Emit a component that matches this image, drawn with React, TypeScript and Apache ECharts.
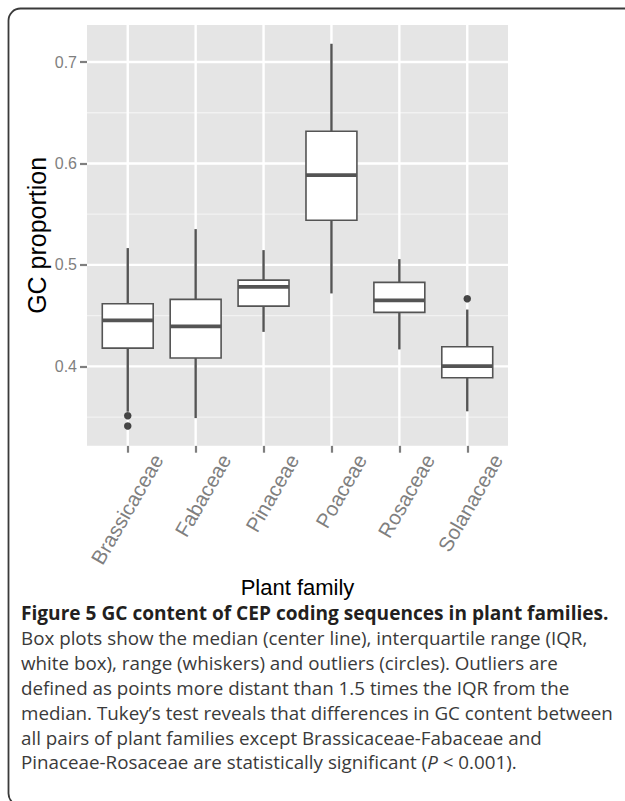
import React, { useEffect, useRef } from "react";
import * as echarts from "echarts";

const families = ["Brassicaceae", "Fabaceae", "Pinaceae", "Poaceae", "Rosaceae", "Solanaceae"];
const whiskerLow = [0.3553, 0.349, 0.434, 0.4719, 0.4167, 0.3557];
const quartile1 = [0.418, 0.4082, 0.4594, 0.5441, 0.4532, 0.3888];
const medians = [0.4453, 0.4394, 0.4784, 0.5885, 0.465, 0.4003];
const quartile3 = [0.4617, 0.466, 0.485, 0.6318, 0.4828, 0.4193];
const whiskerHigh = [0.5166, 0.5353, 0.5146, 0.718, 0.5057, 0.456];
const outlierFamily = ["Brassicaceae", "Brassicaceae", "Solanaceae"];
const outlierValue = [0.3513, 0.3412, 0.4666];
const yTicks = [0.4, 0.5, 0.6, 0.7];
const yMinor = [0.35, 0.45, 0.55, 0.65];
const yMin = 0.3218;
const yMax = 0.7365;

const captionTitle = "Figure 5 GC content of CEP coding sequences in plant families.";
const captionLines = [
  "Box plots show the median (center line), interquartile range (IQR,",
  "white box), range (whiskers) and outliers (circles). Outliers are",
  "defined as points more distant than 1.5 times the IQR from the",
  "median. Tukey\u2019s test reveals that differences in GC content between",
  "all pairs of plant families except Brassicaceae-Fabaceae and",
];
const captionLast = ["Pinaceae-Rosaceae are statistically significant (", "P", " < 0.001)."];

const FONT = "'Liberation Sans', Arial, sans-serif";
const CAP_FONT = "'Open Sans', 'Noto Sans', sans-serif";

export default function App() {
  const ref = useRef<HTMLDivElement>(null);
  useEffect(() => {
    if (!ref.current) return;
    const chart = echarts.init(ref.current, null, { renderer: "svg" });
    const xPos = families.map((_, i) => i + 1);
    const boxData = families.map((_, i) => [
      i + 1,
      whiskerLow[i],
      quartile1[i],
      medians[i],
      quartile3[i],
      whiskerHigh[i],
    ]);
    const outData = outlierFamily.map((f, j) => [families.indexOf(f) + 1, outlierValue[j]]);
    const stroke = "#545454";

    const hLine = (color: string, width: number) => (params: any, api: any) => {
      const cs = params.coordSys;
      const p = api.coord([1, api.value(0)]);
      return {
        type: "line",
        shape: { x1: cs.x, y1: p[1], x2: cs.x + cs.width, y2: p[1] },
        style: { stroke: color, lineWidth: width },
        silent: true,
      };
    };

    const lineHeight = 24.9;
    const capX = 21;
    const capY0 = 613;
    const capSize = 18.8;
    const capColor = "#3a3a3a";
    const captionGraphics: any[] = [
      {
        type: "text",
        x: capX,
        y: capY0,
        style: {
          text: captionTitle,
          fontSize: 19.1,
          fontWeight: "bold",
          fontFamily: CAP_FONT,
          fill: "#231f20",
          verticalAlign: "middle",
          align: "left",
        },
      },
      ...captionLines.map((t, k) => ({
        type: "text",
        x: capX,
        y: capY0 + lineHeight * (k + 1),
        style: {
          text: t,
          fontSize: capSize,
          fontFamily: CAP_FONT,
          fill: capColor,
          verticalAlign: "middle",
          align: "left",
        },
      })),
      {
        type: "text",
        x: capX,
        y: capY0 + lineHeight * (captionLines.length + 1),
        style: {
          text: captionLast[0] + "{i|" + captionLast[1] + "}" + captionLast[2],
          fontSize: capSize,
          fontFamily: CAP_FONT,
          fill: capColor,
          verticalAlign: "middle",
          align: "left",
          rich: {
            i: { fontStyle: "italic", fontSize: capSize, fontFamily: CAP_FONT, fill: capColor },
          },
        },
      },
    ];

    chart.setOption({
      animation: false,
      backgroundColor: "#ffffff",
      grid: {
        left: 87,
        top: 25,
        width: 421,
        height: 420.7,
        show: true,
        backgroundColor: "#E5E5E5",
        borderWidth: 0,
      },
      xAxis: {
        type: "value",
        min: 0.4,
        max: 6.6,
        axisLine: { show: false },
        splitLine: { show: false },
        axisTick: {
          show: true,
          customValues: xPos,
          length: 7,
          lineStyle: { color: "#7f7f7f", width: 2.2 },
        },
        axisLabel: {
          customValues: xPos,
          formatter: (v: number) => families[Math.round(v) - 1] ?? "",
          rotate: 60,
          align: "right",
          verticalAlign: "top",
          padding: [24, 0, 0, 0],
          color: "#7f7f7f",
          fontSize: 20.5,
          fontFamily: FONT,
          margin: -7,
        },
        name: "Plant family",
        nameLocation: "middle",
        nameMoveOverlap: false,
        nameGap: 131,
        nameTextStyle: { fontSize: 22, color: "#000", fontFamily: FONT },
      },
      yAxis: {
        type: "value",
        min: yMin,
        max: yMax,
        axisLine: { show: false },
        splitLine: { show: false },
        axisTick: {
          show: true,
          customValues: yTicks,
          length: 7,
          lineStyle: { color: "#7f7f7f", width: 2.2 },
        },
        axisLabel: {
          customValues: yTicks,
          formatter: (v: number) => v.toFixed(1),
          color: "#7f7f7f",
          fontSize: 16,
          fontFamily: FONT,
          margin: 10,
        },
        name: "GC proportion",
        nameLocation: "middle",
        nameMoveOverlap: false,
        nameGap: 38,
        nameTextStyle: { fontSize: 25, color: "#000", fontFamily: FONT },
      },
      graphic: [
        {
          type: "rect",
          shape: { x: 8.5, y: 8.5, width: 650, height: 797, r: 12 },
          style: { fill: "none", stroke: "#3a3a3a", lineWidth: 1.8 },
          silent: true,
        },
        ...captionGraphics,
      ],
      series: [
        {
          type: "custom",
          z: 1,
          silent: true,
          data: yMinor.map((v) => [v]),
          encode: { y: 0 },
          renderItem: hLine("#F2F2F2", 1.3),
        },
        {
          type: "custom",
          z: 1,
          silent: true,
          data: yTicks.map((v) => [v]),
          encode: { y: 0 },
          renderItem: hLine("#FFFFFF", 2.4),
        },
        {
          type: "custom",
          z: 1,
          silent: true,
          data: xPos.map((v) => [v]),
          encode: { x: 0 },
          renderItem: (params: any, api: any) => {
            const cs = params.coordSys;
            const p = api.coord([api.value(0), yMin]);
            return {
              type: "line",
              shape: { x1: p[0], y1: cs.y, x2: p[0], y2: cs.y + cs.height },
              style: { stroke: "#FFFFFF", lineWidth: 2.4 },
              silent: true,
            };
          },
        },
        {
          type: "custom",
          z: 2,
          data: boxData,
          encode: { x: 0, y: [1, 2, 3, 4, 5] },
          renderItem: (params: any, api: any) => {
            const x = api.value(0);
            const pLo = api.coord([x, api.value(1)]);
            const pQ1 = api.coord([x, api.value(2)]);
            const pMd = api.coord([x, api.value(3)]);
            const pQ3 = api.coord([x, api.value(4)]);
            const pHi = api.coord([x, api.value(5)]);
            const half = api.size([0.75, 0])[0] / 2;
            const cx = pMd[0];
            return {
              type: "group",
              children: [
                {
                  type: "line",
                  shape: { x1: cx, y1: pHi[1], x2: cx, y2: pQ3[1] },
                  style: { stroke, lineWidth: 2.4 },
                },
                {
                  type: "line",
                  shape: { x1: cx, y1: pQ1[1], x2: cx, y2: pLo[1] },
                  style: { stroke, lineWidth: 2.4 },
                },
                {
                  type: "rect",
                  shape: { x: cx - half, y: pQ3[1], width: half * 2, height: pQ1[1] - pQ3[1] },
                  style: { fill: "#ffffff", stroke, lineWidth: 1.6 },
                },
                {
                  type: "line",
                  shape: { x1: cx - half, y1: pMd[1], x2: cx + half, y2: pMd[1] },
                  style: { stroke, lineWidth: 3.8 },
                },
              ],
            };
          },
        },
        {
          type: "scatter",
          z: 3,
          data: outData,
          symbolSize: 7.5,
          itemStyle: { color: "#1a1a1a" },
        },
      ],
    });
    return () => chart.dispose();
  }, []);
  return (
    <div
      ref={ref}
      style={{ position: "absolute", left: 0, top: 0, width: 625, height: 801 }}
    />
  );
}
